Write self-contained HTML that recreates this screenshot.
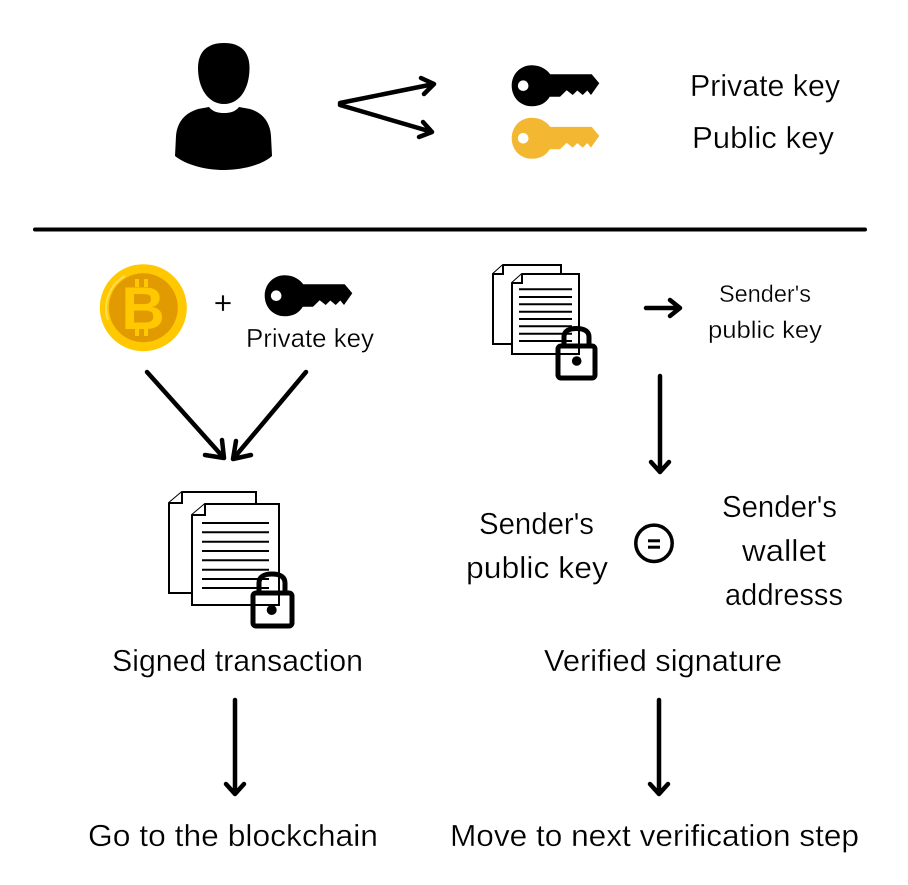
<!DOCTYPE html>
<html>
<head>
<meta charset="utf-8">
<style>
html,body{margin:0;padding:0;background:#fff;width:908px;height:885px;overflow:hidden}
svg{display:block}
text{font-family:"Liberation Sans",sans-serif;fill:#000;stroke:#fff;stroke-width:.3px}
</style>
</head>
<body>
<svg width="908" height="885" viewBox="0 0 908 885" xmlns="http://www.w3.org/2000/svg">
<defs>
<g id="key">
<path d="M0-20.500C9-20.500 15.500-16 18.500-11.400L60-11.400L67.600-2.400L59.300 9.300L55.600 4.800L51 9.300L45.600 4.800L41 9.300L35 4.600L28.300 11L18 11C15 16.500 9 20.500 0 20.500C-11.500 20.500-20 11.500-20 0C-20-11.500-11.500-20.500 0-20.500ZM-8.500-5.300A5.300 5.300 0 1 0-8.499 5.300A5.300 5.300 0 1 0-8.500-5.300Z" fill-rule="evenodd"/>
</g>
</defs>

<!-- person -->
<path d="M224 43C241 43 249.500 52 249.500 68C249.500 88 240 104 224 104C208 104 198 88 198 68C198 52 207 43 224 43Z" fill="#000"/>
<path d="M209 107C213 112 218 113 224 113C230 113 235 112 239 107L250 109C263 113 270 122 271 136L272 156C262 165 242 170 224 170C206 170 186 165 175 156L176 136C177 122 185 113 198 109Z" fill="#000"/>

<!-- split arrows -->
<g fill="none" stroke="#000" stroke-width="4.500" stroke-linecap="round" stroke-linejoin="round">
<path d="M340 103L434 84M421 78L434 84L424 94"/>
<path d="M340 105L432 132M423 122L432 132L419 137"/>
</g>

<!-- top keys -->
<use href="#key" x="531.700" y="85.700" fill="#000"/>
<use href="#key" x="531.700" y="138.300" fill="#f4b731"/>
<text x="690" y="96" font-size="31" textLength="150" lengthAdjust="spacingAndGlyphs">Private key</text>
<text x="692" y="148" font-size="31" textLength="142" lengthAdjust="spacingAndGlyphs">Public key</text>

<!-- divider -->
<line x1="35" y1="229.500" x2="865" y2="229.500" stroke="#000" stroke-width="4" stroke-linecap="round"/>

<!-- coin -->
<circle cx="143.300" cy="307.700" r="43.500" fill="#ffc800"/>
<path d="M108 320A37 37 0 0 1 125 276" fill="none" stroke="#ffe27a" stroke-width="2" opacity=".7"/>
<circle cx="143.300" cy="307.700" r="34.500" fill="#e19b00"/>
<g fill="#ffc800">
<text x="143" y="329" font-size="60" font-weight="bold" text-anchor="middle" style="fill:#ffc800;stroke:none">B</text>
<rect x="135" y="279" width="4" height="8"/>
<rect x="144" y="279" width="4" height="8"/>
<rect x="135" y="329" width="4" height="7"/>
<rect x="144" y="329" width="4" height="7"/>
</g>
<text x="223" y="314" font-size="32" text-anchor="middle">+</text>
<use href="#key" x="284.700" y="295.700" fill="#000"/>
<text x="246" y="347" font-size="26" textLength="128" lengthAdjust="spacingAndGlyphs">Private key</text>

<!-- arrows -->
<g fill="none" stroke="#000" stroke-width="4.500" stroke-linecap="round" stroke-linejoin="round">
<path d="M147 372L224 458M205 455L224 458L222 440"/>
<path d="M306 372L233 459M236 441L233 459L251 455"/>
<path d="M646 308L680 308M670 300L680 308L670 316"/>
<path d="M660 376L660 472M651 462L660 472L669 462"/>
<path d="M235 700L235 794M226 784L235 794L244 784"/>
<path d="M659 700L659 794M650 784L659 794L668 784"/>
</g>

<!-- small document + lock -->
<g fill="#fff" stroke="#000" stroke-width="2">
<path d="M503 265H561V344H493V274Z"/>
<path d="M503 265V274H493"/>
<path d="M522 274H579V354H512V283Z"/>
<path d="M522 274V283H512"/>
</g>
<g stroke="#000" stroke-width="2">
<path d="M519 289.300H572M519 297H572M519 304.300H572M519 311.700H572M519 319H572M519 326.300H572M519 333.700H572M519 341H572"/>
</g>
<g fill="none" stroke="#000" stroke-width="5">
<rect x="558" y="346" width="37" height="32" rx="3"/>
<path d="M564 346V337C564 331 569 328.500 576.500 328.500C584 328.500 589 331 589 337V346"/>
</g>
<circle cx="576.700" cy="361" r="4.800" fill="#000"/>
<text x="719" y="302" font-size="24" textLength="92" lengthAdjust="spacingAndGlyphs">Sender's</text>
<text x="708" y="338" font-size="24" textLength="114" lengthAdjust="spacingAndGlyphs">public key</text>

<!-- big document + lock -->
<g fill="#fff" stroke="#000" stroke-width="2">
<path d="M182 492H256V593H169V503Z"/>
<path d="M182 492V503H169"/>
<path d="M205 504H279V605H192V515Z"/>
<path d="M205 504V515H192"/>
</g>
<g stroke="#000" stroke-width="2">
<path d="M202 523H269M202 532.300H269M202 541.700H269M202 551H269M202 560.300H269M202 569.700H269M202 579H269M202 588H269"/>
</g>
<g fill="none" stroke="#000" stroke-width="5">
<rect x="253" y="593" width="39" height="33" rx="3"/>
<path d="M259 593V583C259 577 264 574 272 574C280 574 285 577 285 583V593"/>
</g>
<circle cx="271.700" cy="610" r="5" fill="#000"/>

<!-- equals -->
<circle cx="654" cy="543.300" r="18.200" fill="none" stroke="#000" stroke-width="3.500"/>
<rect x="648" y="539.300" width="12" height="3" fill="#000"/>
<rect x="648" y="545.700" width="12" height="3" fill="#000"/>

<!-- labels -->
<text x="479" y="534" font-size="31" textLength="115" lengthAdjust="spacingAndGlyphs">Sender's</text>
<text x="466" y="578" font-size="31" textLength="142" lengthAdjust="spacingAndGlyphs">public key</text>
<text x="722" y="517" font-size="31" textLength="115" lengthAdjust="spacingAndGlyphs">Sender's</text>
<text x="742" y="561" font-size="31" textLength="84" lengthAdjust="spacingAndGlyphs">wallet</text>
<text x="725" y="605" font-size="31" textLength="118" lengthAdjust="spacingAndGlyphs">addresss</text>
<text x="112" y="671" font-size="31" textLength="251" lengthAdjust="spacingAndGlyphs">Signed transaction</text>
<text x="544" y="671" font-size="31" textLength="238" lengthAdjust="spacingAndGlyphs">Verified signature</text>
<text x="88" y="846" font-size="31" textLength="290" lengthAdjust="spacingAndGlyphs">Go to the blockchain</text>
<text x="450" y="846" font-size="31" textLength="409" lengthAdjust="spacingAndGlyphs">Move to next verification step</text>
</svg>
</body>
</html>
